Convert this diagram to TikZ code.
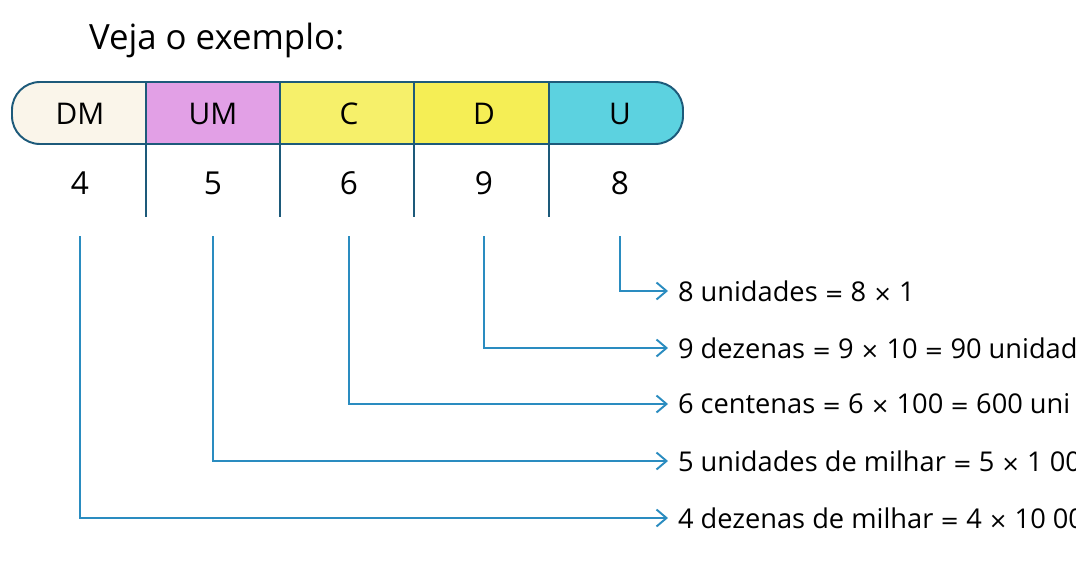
\documentclass[tikz,border=0pt]{standalone}
\usepackage{fontspec}
\setmainfont{Open Sans}
\newfontfamily\simbolo[Scale=0.82]{DejaVu Sans}
\newcommand\igual{{\simbolo =}}
\newcommand\vezes{{\simbolo ×}}
\usetikzlibrary{positioning,arrows.meta,calc}
\definecolor{bordo}{HTML}{1D5A7A}
\definecolor{linha}{HTML}{2A8CC0}
\definecolor{corDM}{HTML}{FAF5EA}
\definecolor{corUM}{HTML}{E2A0E6}
\definecolor{corC}{HTML}{F6F06A}
\definecolor{corD}{HTML}{F5EE55}
\definecolor{corU}{HTML}{5CD2E0}

\begin{document}
\begin{tikzpicture}[x=0.02cm,y=-0.02cm,
 every node/.style={outer sep=0pt,inner sep=0pt},
 casa/.style={font=\fontsize{17}{20}\selectfont},
 algarismo/.style={font=\fontsize{18}{21}\selectfont},
 valor/.style={anchor=west,inner xsep=0.2cm,font=\fontsize{15.5}{18}\selectfont},
 divisor/.style={bordo,line width=1.1pt},
 seta/.style={linha,line width=1.1pt,-{Straight Barb[length=0.2cm,width=0.34cm]}}]

 \clip (0,0) rectangle (1076,565);
 \fill[white] (0,0) rectangle (1076,565);

 \node[anchor=base west,font=\fontsize{19.8}{22}\selectfont] (titulo) at (89,49) {Veja o exemplo:};

 % quadro de ordens
 \begin{scope}
  \clip[rounded corners=0.56cm] (12,82) rectangle (683,144);
  \foreach \cor/\xa/\xb in {corDM/12/146,corUM/146/280,corC/280/414,corD/414/549,corU/549/683}
   \fill[\cor] (\xa,82) rectangle (\xb,144);
 \end{scope}
 \draw[divisor,rounded corners=0.56cm] (12,82) rectangle (683,144);
 \foreach \X in {146,280,414,549}
  \draw[divisor] (\X,82) -- (\X,217);

 \foreach \nome/\ord/\dig/\X in {dm/DM/4/80,um/UM/5/213,c/C/6/349,d/D/9/484,u/U/8/620}
 {\node[casa] (\nome) at (\X,114) {\ord};
  \node[algarismo,below=1.38cm of \nome.center,anchor=center] (n-\nome) {\dig};}

 \coordinate (topo) at (0,236);

 % valores
 \foreach \nome/\Y/\txt in {u/291/{8 unidades \igual{} 8 \vezes{} 1},
   d/348/{9 dezenas \igual{} 9 \vezes{} 10 \igual{} 90 unidad},
   c/404/{6 centenas \igual{} 6 \vezes{} 100 \igual{} 600 uni},
   um/461/{5 unidades de milhar \igual{} 5 \vezes{} 1 00},
   dm/518/{4 dezenas de milhar \igual{} 4 \vezes{} 10 00}}
 {\node[valor] (v-\nome) at (668,\Y) {\txt};
  \draw[seta] (n-\nome |- topo) |- (v-\nome.west);}

\end{tikzpicture}
\end{document}
